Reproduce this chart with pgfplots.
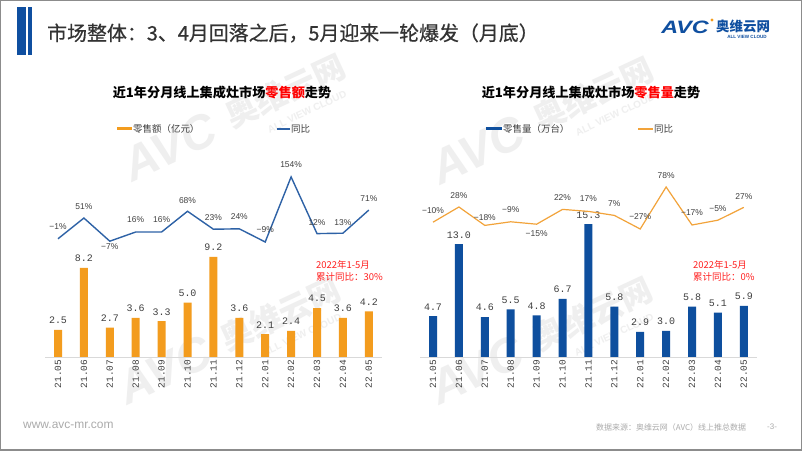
\documentclass[border=0pt]{standalone}
\usepackage{pgfplots}
\pgfplotsset{compat=1.18}
\usepackage{fontspec}
\setmainfont{Noto Sans CJK SC}
\newfontfamily\titlefont[FakeBold=0.6]{Noto Sans CJK SC}
\newfontfamily\lat{Liberation Sans}
\newfontfamily\mono{Liberation Mono}
\definecolor{barorange}{HTML}{F39C1E}
\definecolor{barblue}{HTML}{0E4F9E}
\definecolor{lineblue}{HTML}{2E62A6}
\definecolor{lineorange}{HTML}{F2A33A}
\definecolor{titleblue}{HTML}{0F4FA0}
\definecolor{txt}{HTML}{404040}
\definecolor{titletxt}{HTML}{333333}
\definecolor{axisgray}{HTML}{D9D9D9}
\definecolor{notered}{HTML}{FF2020}
\definecolor{foot}{HTML}{ABABAB}
\definecolor{wmk}{HTML}{EFEFEF}

\pgfplotsset{
  barax/.style={anchor=origin, x=25.9bp, xmin=-0.5, xmax=12.5, ymin=0,
    axis y line=none, axis x line*=bottom,
    x axis line style={draw=axisgray, line width=0.9bp, -},
    xtick={0,...,12},
    xticklabels={21.05,21.06,21.07,21.08,21.09,21.10,21.11,21.12,22.01,22.02,22.03,22.04,22.05},
    major tick length=0pt,
    xticklabel style={rotate=90, anchor=east, font=\mono\fontsize{9.5}{9.5}\selectfont, text=txt, inner sep=2.5bp},
    ybar, bar width=8bp,
    nodes near coords={\pgfmathprintnumber[fixed,fixed zerofill,precision=1,assume math mode=true]{\pgfplotspointmeta}},
    point meta=y,
    every node near coord/.append style={font=\mono\fontsize{10}{10}\selectfont, text=txt, yshift=2.5bp},
    clip=false,
  },
  lineax/.style={anchor=origin, x=25.9bp, xmin=-0.5, xmax=12.5, axis lines=none, clip=false,
    nodes near coords, point meta=explicit symbolic,
    visualization depends on={\thisrow{dy} \as \dy},
    every node near coord/.append style={font=\lat\fontsize{8.5}{8.5}\selectfont, text=txt, anchor=center, yshift=\dy bp},
  },
}

\newcommand{\wm}[2]{%
  \begin{scope}[shift={(#1,#2)}, rotate=25, transform shape]
    \node[text=wmk, inner sep=0, font=\lat\bfseries\itshape\fontsize{48}{48}\selectfont] at (0,0) {AVC};
    \node[text=wmk, inner sep=0, font=\bfseries\fontsize{32}{32}\selectfont] at (128,2) {奥维云网};
    \node[text=wmk, inner sep=0, font=\lat\bfseries\fontsize{10}{10}\selectfont] at (139,-26) {ALL VIEW CLOUD};
  \end{scope}}

\begin{document}
\begin{tikzpicture}[x=1bp,y=1bp]
\useasboundingbox (0,0) rectangle (802,451);
\fill[white] (0,0) rectangle (802,451);

% watermarks
\wm{170}{304}
\wm{165}{81}
\wm{478}{301}
\wm{477}{81}

% title bar
\fill[titleblue] (17.3,396) rectangle (26,443.7);
\fill[titleblue] (27.8,396) rectangle (31.7,443.7);
\node[anchor=west, inner sep=0, text=titletxt, font=\titlefont\fontsize{20}{20}\selectfont] at (47,418) {市场整体：3、4月回落之后，5月迎来一轮爆发（月底）};

% logo
\node[anchor=west, inner sep=0, text=titleblue, xscale=1.3, font=\lat\bfseries\itshape\fontsize{18}{18}\selectfont] at (661,424) {AVC};
\fill[barorange] (712,431) circle (1.6);
\node[anchor=west, inner sep=0, text=titleblue, font=\bfseries\fontsize{13.5}{13.5}\selectfont] at (716,425) {奥维云网};
\node[anchor=center, inner sep=0, text=titleblue, font=\lat\bfseries\fontsize{4.6}{4.6}\selectfont] at (747,414) {ALL VIEW CLOUD};

% chart titles
\node[inner sep=0, font=\bfseries\fontsize{13.2}{13.2}\selectfont] at (222,358) {近1年分月线上集成灶市场\textcolor{red}{零售额}走势};
\node[inner sep=0, font=\bfseries\fontsize{13.2}{13.2}\selectfont] at (591,358) {近1年分月线上集成灶市场\textcolor{red}{零售量}走势};

% legends
\fill[barorange] (117,320.5) rectangle (132,323.5);
\node[anchor=west, inner sep=0, text=txt, font=\fontsize{9.5}{9.5}\selectfont] at (133,322) {零售额（亿元）};
\draw[lineblue, line width=1.4bp] (277,322) -- (290,322);
\node[anchor=west, inner sep=0, text=txt, font=\fontsize{9.5}{9.5}\selectfont] at (291,322) {同比};
\fill[barblue] (486,320.5) rectangle (502,323.5);
\node[anchor=west, inner sep=0, text=txt, font=\fontsize{9.5}{9.5}\selectfont] at (503,322) {零售量（万台）};
\draw[lineorange, line width=1.2bp] (638,322) -- (653,322);
\node[anchor=west, inner sep=0, text=txt, font=\fontsize{9.5}{9.5}\selectfont] at (654,322) {同比};

% left bars
\begin{axis}[barax, at={(58bp,94bp)}, y=10.87bp, ymax=10]
\addplot[fill=barorange, draw=none] coordinates {
(0,2.5) (1,8.2) (2,2.7) (3,3.6) (4,3.3) (5,5.0) (6,9.2) (7,3.6) (8,2.1) (9,2.4) (10,4.5) (11,3.6) (12,4.2)};
\end{axis}

% left line
\begin{axis}[lineax, at={(58bp,212.6bp)}, y=0.399bp, ymin=-20, ymax=160]
\addplot[lineblue, line width=1.4bp, mark=none] table[x=x, y=y, meta=lab, row sep=\\] {
x y lab dy \\
0 -1 −1\% 12 \\
1 51 51\% 11 \\
2 -7 −7\% -5 \\
3 16 16\% 12 \\
4 16 16\% 12 \\
5 68 68\% 11 \\
6 23 23\% 12 \\
7 24 24\% 12 \\
8 -9 −9\% 12 \\
9 154 154\% 12 \\
10 12 12\% 11 \\
11 13 13\% 11 \\
12 71 71\% 11 \\
};
\end{axis}

% right bars
\begin{axis}[barax, at={(433bp,94bp)}, y=8.68bp, ymax=16]
\addplot[fill=barblue, draw=none] coordinates {
(0,4.7) (1,13.0) (2,4.6) (3,5.5) (4,4.8) (5,6.7) (6,15.3) (7,5.8) (8,2.9) (9,3.0) (10,5.8) (11,5.1) (12,5.9)};
\end{axis}

% right line
\begin{axis}[lineax, at={(433bp,232.8bp)}, y=0.4bp, ymin=-30, ymax=80]
\addplot[lineorange, line width=1.2bp, mark=none] table[x=x, y=y, meta=lab, row sep=\\] {
x y lab dy \\
0 -10 −10\% 12 \\
1 28 28\% 11 \\
2 -18 −18\% 8 \\
3 -9 −9\% 12 \\
4 -15 −15\% -9 \\
5 22 22\% 12 \\
6 17 17\% 13 \\
7 7 7\% 12 \\
8 -27 −27\% 12 \\
9 78 78\% 11 \\
10 -17 −17\% 12 \\
11 -5 −5\% 12 \\
12 27 27\% 11 \\
};
\end{axis}

% red notes
\node[anchor=north west, align=left, inner sep=0, text=notered, font=\fontsize{9.5}{12}\selectfont] at (316,191) {2022年1-5月\\累计同比：30\%};
\node[anchor=north west, align=left, inner sep=0, text=notered, font=\fontsize{9.5}{12}\selectfont] at (693,191) {2022年1-5月\\累计同比：0\%};

% footer
\node[anchor=west, inner sep=0, text=foot, font=\lat\fontsize{12}{12}\selectfont] at (23,26) {www.avc-mr.com};
\node[anchor=west, inner sep=0, text=foot, font=\fontsize{8}{8}\selectfont] at (596,24) {数据来源：奥维云网（AVC）线上推总数据};
\node[anchor=west, inner sep=0, text=foot, font=\lat\fontsize{8}{8}\selectfont] at (767,24) {-3-};

% border
\draw[color={rgb,255:red,140;green,140;blue,140}, line width=1.5bp] (0.75,0.75) rectangle (801.25,450.25);
\end{tikzpicture}
\end{document}
